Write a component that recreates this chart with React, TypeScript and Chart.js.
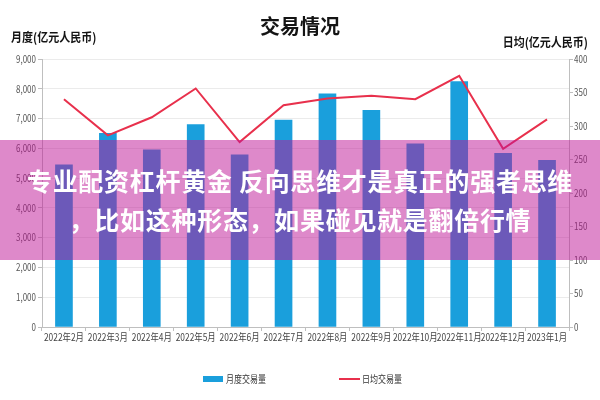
import React, { useEffect, useRef } from "react";
import { Chart, registerables } from "chart.js";

Chart.register(...registerables);

const categories = [
  "2022年2月", "2022年3月", "2022年4月", "2022年5月", "2022年6月", "2022年7月",
  "2022年8月", "2022年9月", "2022年10月", "2022年11月", "2022年12月", "2023年1月",
];
const monthlyVolume = [5450, 6500, 5950, 6800, 5780, 6950, 7830, 7280, 6150, 8240, 5830, 5600];
const dailyVolume = [340, 286, 313, 356, 276, 331, 341, 345, 340, 375, 266, 310];
const seriesNames = ["月度交易量", "日均交易量"];
const chartTitle = "交易情况";
const leftAxisTitle = "月度(亿元人民币)";
const rightAxisTitle = "日均(亿元人民币)";
const leftAxisMax = 9000;
const leftAxisStep = 1000;
const rightAxisMax = 400;
const rightAxisStep = 50;
const overlayLines = [
  "专业配资杠杆黄金 反向思维才是真正的强者思维",
  "，比如这种形态，如果碰见就是翻倍行情",
];

const BAR_COLOR = "#1a9fdc";
const LINE_COLOR = "#e8304c";
const CJK = '"Noto Sans CJK SC", "Noto Sans", sans-serif';

function drawSqueezed(ctx: CanvasRenderingContext2D, text: string, x: number, y: number, k = 0.8) {
  ctx.save();
  ctx.translate(x, y);
  ctx.scale(k, 1);
  ctx.fillText(text, 0, 0);
  ctx.restore();
}

const textPlugin = {
  id: "customText",
  afterDraw(chart: any) {
    const ctx = chart.ctx as CanvasRenderingContext2D;
    const cx = chart.width / 2;
    ctx.save();
    ctx.textBaseline = "middle";

    // tick labels (condensed, positioned by the library's scales)
    const xs = chart.scales.x;
    const yl = chart.scales.y;
    const yr = chart.scales.y1;
    ctx.fillStyle = "#444";
    ctx.font = `10.5px ${CJK}`;
    ctx.textAlign = "center";
    (chart.data.labels as string[]).forEach((lab, i) => {
      drawSqueezed(ctx, lab, xs.getPixelForTick(i), xs.top + 10);
    });
    ctx.fillStyle = "#555";
    ctx.font = `10px ${CJK}`;
    ctx.textAlign = "right";
    yl.ticks.forEach((t: any) => {
      drawSqueezed(ctx, Number(t.value).toLocaleString("en-US"), yl.right - 6, yl.getPixelForValue(t.value));
    });
    ctx.textAlign = "left";
    yr.ticks.forEach((t: any) => {
      drawSqueezed(ctx, String(t.value), yr.left + 5, yr.getPixelForValue(t.value));
    });

    // titles
    ctx.fillStyle = "#141414";
    ctx.textAlign = "center";
    ctx.font = `bold 20px ${CJK}`;
    ctx.fillText(chartTitle, cx, 26);
    ctx.font = `bold 12.5px ${CJK}`;
    ctx.textAlign = "left";
    drawSqueezed(ctx, leftAxisTitle, 11, 37, 0.88);
    ctx.textAlign = "right";
    drawSqueezed(ctx, rightAxisTitle, 588, 42, 0.88);

    // legend
    const ly = 379;
    ctx.font = `10px ${CJK}`;
    ctx.textAlign = "left";
    ctx.fillStyle = BAR_COLOR;
    ctx.fillRect(cx - 97, ly - 3, 20, 6);
    ctx.fillStyle = "#333";
    drawSqueezed(ctx, seriesNames[0], cx - 74, ly);
    ctx.strokeStyle = LINE_COLOR;
    ctx.lineWidth = 2;
    ctx.beginPath();
    ctx.moveTo(cx + 39, ly);
    ctx.lineTo(cx + 60, ly);
    ctx.stroke();
    drawSqueezed(ctx, seriesNames[1], cx + 62, ly);
    ctx.restore();
  },
};

export default function App() {
  const canvasRef = useRef<HTMLCanvasElement | null>(null);

  useEffect(() => {
    if (!canvasRef.current) return;
    const chart = new Chart(canvasRef.current, {
      type: "bar",
      data: {
        labels: categories,
        datasets: [
          {
            type: "line",
            label: seriesNames[1],
            data: dailyVolume,
            yAxisID: "y1",
            borderColor: LINE_COLOR,
            backgroundColor: LINE_COLOR,
            borderWidth: 2,
            pointRadius: 0,
            tension: 0,
            order: 1,
          } as any,
          {
            type: "bar",
            label: seriesNames[0],
            data: monthlyVolume,
            yAxisID: "y",
            backgroundColor: BAR_COLOR,
            barThickness: 17,
            order: 2,
          } as any,
        ],
      },
      options: {
        animation: false,
        responsive: false,
        maintainAspectRatio: false,
        layout: { padding: { top: 59, bottom: 53, left: 0, right: 0 } },
        plugins: {
          legend: { display: false },
          title: { display: false },
          tooltip: { enabled: false },
        },
        scales: {
          x: {
            grid: {
              display: true,
              drawOnChartArea: false,
              drawTicks: true,
              tickLength: 4,
              color: "#bfbfbf",
            },
            border: { display: true, color: "#bfbfbf" },
            ticks: { display: false, autoSkip: false, maxRotation: 0 },
            afterFit(scale: any) {
              scale.height = 20;
            },
          },
          y: {
            position: "left",
            min: 0,
            max: leftAxisMax,
            ticks: { stepSize: leftAxisStep, display: false },
            grid: {
              color: "#ebebeb",
              tickColor: "#bfbfbf",
              tickLength: 4,
            },
            border: { display: true, color: "#bfbfbf" },
            afterFit(scale: any) {
              scale.width = 42;
            },
          },
          y1: {
            position: "right",
            min: 0,
            max: rightAxisMax,
            ticks: { stepSize: rightAxisStep, display: false },
            grid: {
              drawOnChartArea: false,
              tickColor: "#bfbfbf",
              tickLength: 4,
            },
            border: { display: true, color: "#bfbfbf" },
            afterFit(scale: any) {
              scale.width = 31;
            },
          },
        },
      } as any,
      plugins: [textPlugin],
    });
    return () => chart.destroy();
  }, []);

  return (
    <div style={{ position: "fixed", left: 0, top: 0, width: 600, height: 400, background: "#fff" }}>
      <canvas ref={canvasRef} width={600} height={400} style={{ width: 600, height: 400, display: "block" }} />
      <div
        style={{
          position: "absolute",
          left: 0,
          top: 140,
          width: 600,
          height: 120,
          background: "rgba(190, 20, 150, 0.5)",
          display: "flex",
          flexDirection: "column",
          justifyContent: "center",
          alignItems: "center",
          color: "#fff",
          fontFamily: CJK,
          fontWeight: 700,
          fontSize: 25,
          lineHeight: "39px",
          letterSpacing: "0.7px",
        }}
      >
        {overlayLines.map((t, i) => (
          <div key={i} style={{ whiteSpace: "nowrap" }}>{t}</div>
        ))}
      </div>
    </div>
  );
}
